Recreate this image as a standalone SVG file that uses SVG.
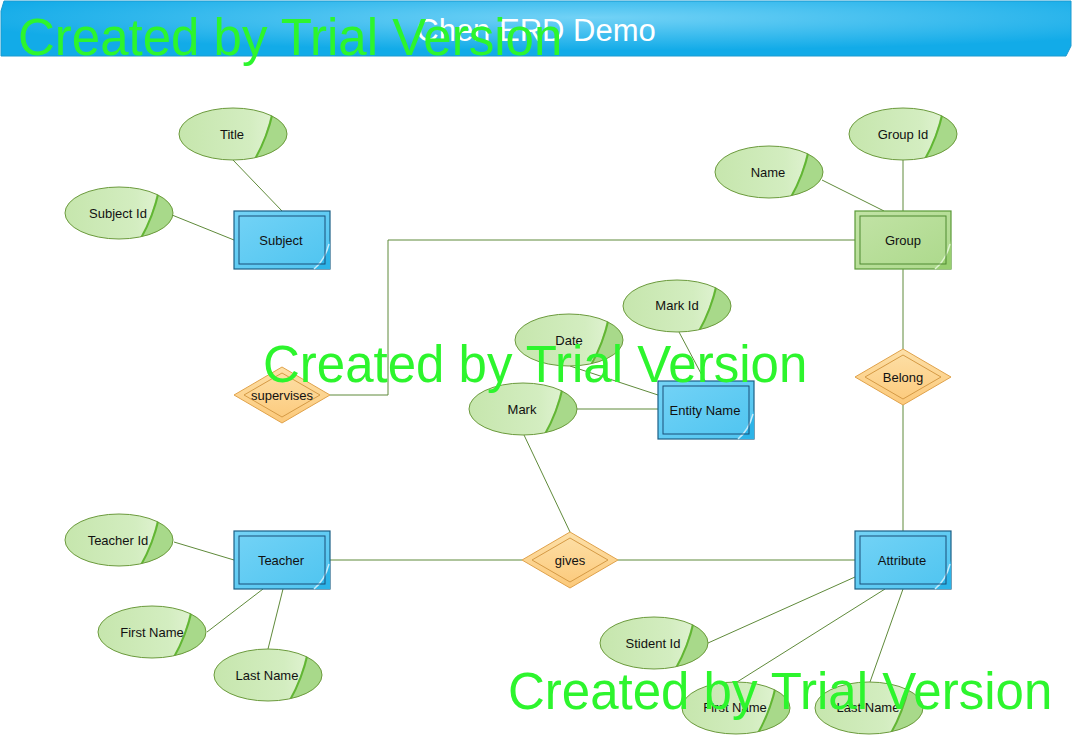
<svg xmlns="http://www.w3.org/2000/svg" xmlns:xlink="http://www.w3.org/1999/xlink" width="1073" height="736" viewBox="0 0 1073 736">
<style>
.lbl{font-family:"Liberation Sans",Arial,sans-serif;font-size:13px;fill:#111;text-anchor:middle;dominant-baseline:central}
.conn{stroke:#5f8a3a;stroke-width:1;fill:none}
.wm{font-family:"Liberation Sans",Arial,sans-serif;font-size:51px;fill:#2df52d}
</style>
<defs>
<radialGradient id="gHead" cx="0.55" cy="0.3" r="0.6">
<stop offset="0" stop-color="#72d2f6"/><stop offset="1" stop-color="#12abe8"/>
</radialGradient>
<linearGradient id="gEll" x1="0" y1="0" x2="1" y2="0">
<stop offset="0" stop-color="#c6e6ad"/><stop offset="0.65" stop-color="#d3edc0"/><stop offset="1" stop-color="#e6f5da"/>
</linearGradient>
<linearGradient id="gBlue" x1="0" y1="0" x2="1" y2="1">
<stop offset="0" stop-color="#74d3f6"/><stop offset="1" stop-color="#4ec4f0"/>
</linearGradient>
<linearGradient id="gGreen" x1="0" y1="0" x2="1" y2="1">
<stop offset="0" stop-color="#c2e3a6"/><stop offset="1" stop-color="#acd98b"/>
</linearGradient>
<linearGradient id="gDia" x1="0" y1="0" x2="0" y2="1">
<stop offset="0" stop-color="#fde0a8"/><stop offset="1" stop-color="#fcc97a"/>
</linearGradient>
<clipPath id="ec"><ellipse cx="0" cy="0" rx="54" ry="26"/></clipPath>
<clipPath id="rc"><rect x="-48" y="-29" width="96" height="58"/></clipPath>
<g id="ell">
<ellipse rx="54" ry="26" fill="url(#gEll)"/>
<path d="M 40 -30 Q 34 4 20 30 L 60 30 L 60 -30 Z" fill="#a8d98a" clip-path="url(#ec)"/>
<path d="M 40 -22 Q 34 4 22 25" stroke="#62b634" stroke-width="2" fill="none" clip-path="url(#ec)"/>
<ellipse rx="54" ry="26" fill="none" stroke="#6b9a3c" stroke-width="1"/>
</g>
<g id="entB">
<rect x="-48" y="-29" width="96" height="58" fill="url(#gBlue)" stroke="#1b5f86" stroke-width="1.2"/>
<path d="M 48 0 Q 44 20 30 30 L 48 30 Z" fill="#2db4e8" clip-path="url(#rc)"/>
<path d="M 47 4 Q 43 20 32 29" stroke="#e8f8ff" stroke-width="1.5" fill="none" opacity="0.8"/>
<rect x="-43" y="-24" width="86" height="48" fill="none" stroke="#1b4f78" stroke-width="1"/>
</g>
<g id="entG">
<rect x="-48" y="-29" width="96" height="58" fill="url(#gGreen)" stroke="#5a9a38" stroke-width="1.2"/>
<path d="M 48 0 Q 44 20 30 30 L 48 30 Z" fill="#98cf70" clip-path="url(#rc)"/>
<path d="M 47 4 Q 43 20 32 29" stroke="#eefbe4" stroke-width="1.5" fill="none" opacity="0.8"/>
<rect x="-43" y="-24" width="86" height="48" fill="none" stroke="#4e8a30" stroke-width="1"/>
</g>
<g id="dia">
<polygon points="-48,0 0,-28 48,0 0,28" fill="url(#gDia)" stroke="#e0a24a" stroke-width="1"/>
<polygon points="-38,0 0,-22 38,0 0,22" fill="none" stroke="#d59a45" stroke-width="1"/>
</g>
</defs>

<rect width="1073" height="736" fill="#ffffff"/>

<g id="header">
<polygon points="4,1 1071,1 1071,46 1066,56 1,56 1,11" fill="url(#gHead)" stroke="#1a9ad0" stroke-width="1"/>
<text x="536" y="30" style="font-family:'Liberation Sans',Arial,sans-serif;font-size:31px;fill:#ffffff;text-anchor:middle;dominant-baseline:central">Chen ERD Demo</text>
</g>

<g id="connectors">
<line class="conn" x1="233" y1="160" x2="282" y2="211"/>
<line class="conn" x1="172" y1="215" x2="234" y2="240"/>
<line class="conn" x1="903" y1="160" x2="903" y2="211"/>
<line class="conn" x1="822" y1="180" x2="884" y2="211"/>
<polyline class="conn" points="855,240 388,240 388,395 330,395"/>
<line class="conn" x1="903" y1="269" x2="903" y2="349"/>
<line class="conn" x1="903" y1="405" x2="903" y2="531"/>
<line class="conn" x1="679" y1="332" x2="705" y2="381"/>
<line class="conn" x1="570" y1="366" x2="658" y2="395"/>
<line class="conn" x1="577" y1="409" x2="658" y2="409"/>
<line class="conn" x1="524" y1="435" x2="570" y2="532"/>
<line class="conn" x1="330" y1="560" x2="522" y2="560"/>
<line class="conn" x1="618" y1="560" x2="855" y2="560"/>
<line class="conn" x1="174" y1="542" x2="234" y2="560"/>
<line class="conn" x1="207" y1="632" x2="263" y2="589"/>
<line class="conn" x1="268" y1="649" x2="283" y2="589"/>
<line class="conn" x1="708" y1="643" x2="855" y2="577"/>
<line class="conn" x1="737" y1="682" x2="885" y2="589"/>
<line class="conn" x1="870" y1="682" x2="903" y2="589"/>
</g>

<g id="subject"><use href="#entB" x="282" y="240"/><text class="lbl" x="281" y="240">Subject</text></g>
<g id="group"><use href="#entG" x="903" y="240"/><text class="lbl" x="903" y="240">Group</text></g>
<g id="entity-name"><use href="#entB" x="706" y="410"/><text class="lbl" x="705" y="410">Entity Name</text></g>
<g id="teacher"><use href="#entB" x="282" y="560"/><text class="lbl" x="281" y="560">Teacher</text></g>
<g id="attribute"><use href="#entB" x="903" y="560"/><text class="lbl" x="902" y="560">Attribute</text></g>

<g id="supervises"><use href="#dia" x="282" y="395"/><text class="lbl" x="282" y="395">supervises</text></g>
<g id="belong"><use href="#dia" x="903" y="377"/><text class="lbl" x="903" y="377">Belong</text></g>
<g id="gives"><use href="#dia" x="570" y="560"/><text class="lbl" x="570" y="560">gives</text></g>

<g id="title-attr"><use href="#ell" x="233" y="134"/><text class="lbl" x="232" y="134">Title</text></g>
<g id="subject-id"><use href="#ell" x="119" y="213"/><text class="lbl" x="118" y="213">Subject Id</text></g>
<g id="group-id"><use href="#ell" x="903" y="134"/><text class="lbl" x="903" y="134">Group Id</text></g>
<g id="name"><use href="#ell" x="769" y="172"/><text class="lbl" x="768" y="172">Name</text></g>
<g id="mark-id"><use href="#ell" x="677" y="306"/><text class="lbl" x="677" y="305">Mark Id</text></g>
<g id="date"><use href="#ell" x="569" y="340"/><text class="lbl" x="569" y="340">Date</text></g>
<g id="mark"><use href="#ell" x="523" y="409"/><text class="lbl" x="522" y="409">Mark</text></g>
<g id="teacher-id"><use href="#ell" x="119" y="540"/><text class="lbl" x="118" y="540">Teacher Id</text></g>
<g id="teacher-first-name"><use href="#ell" x="152" y="632"/><text class="lbl" x="152" y="632">First Name</text></g>
<g id="teacher-last-name"><use href="#ell" x="268" y="675"/><text class="lbl" x="267" y="675">Last Name</text></g>
<g id="stident-id"><use href="#ell" x="654" y="643"/><text class="lbl" x="653" y="643">Stident Id</text></g>
<g id="attr-first-name"><use href="#ell" x="736" y="708"/><text class="lbl" x="735" y="707">First Name</text></g>
<g id="attr-last-name"><use href="#ell" x="869" y="708"/><text class="lbl" x="868" y="707">Last Name</text></g>

<g id="watermarks">
<text class="wm" x="18" y="55">Created by Trial Version</text>
<text class="wm" x="263" y="382">Created by Trial Version</text>
<text class="wm" x="508" y="709">Created by Trial Version</text>
</g>
</svg>
